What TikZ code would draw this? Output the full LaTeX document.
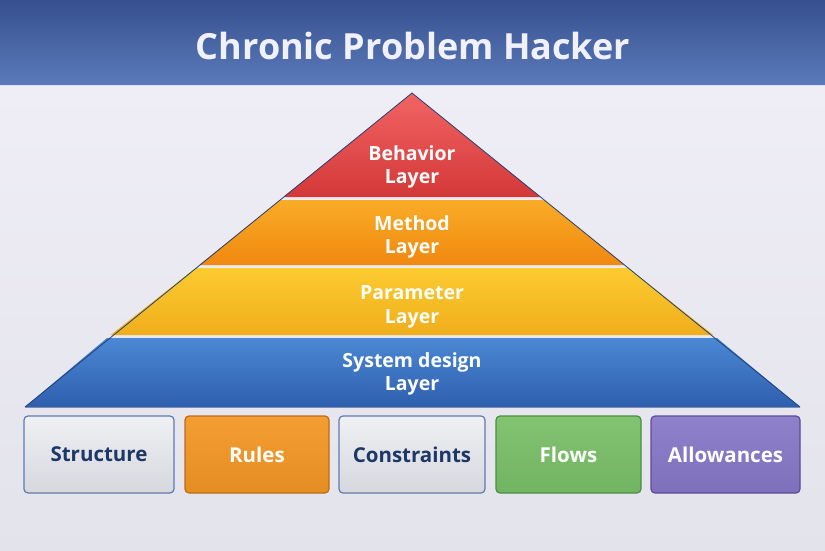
\documentclass[tikz,border=0pt]{standalone}
\usepackage{fontspec}
\setmainfont{Open Sans}
\usetikzlibrary{positioning}

\definecolor{barTop}{HTML}{37508F}
\definecolor{barBot}{HTML}{5A7AB9}
\definecolor{bgTop}{HTML}{EFEEF6}
\definecolor{bgBot}{HTML}{E3E3EC}
\definecolor{redTop}{HTML}{F16464}
\definecolor{redBot}{HTML}{D43838}
\definecolor{orTop}{HTML}{F9AC28}
\definecolor{orBot}{HTML}{F0880F}
\definecolor{yeTop}{HTML}{FCCB30}
\definecolor{yeBot}{HTML}{EFAE1C}
\definecolor{blTop}{HTML}{4B88D3}
\definecolor{blBot}{HTML}{2E5FAE}
\definecolor{edge}{HTML}{24407A}
\definecolor{navy}{HTML}{1D3866}
\definecolor{greyFill}{HTML}{E9EAF0}
\definecolor{greyLine}{HTML}{5D7BAE}
\definecolor{ruleFill}{HTML}{F29624}
\definecolor{ruleLine}{HTML}{BF6A18}
\definecolor{flowFill}{HTML}{78BF67}
\definecolor{flowLine}{HTML}{4A8F42}
\definecolor{allowFill}{HTML}{8777C8}
\definecolor{allowLine}{HTML}{5C4D96}

\tikzset{
  layertext/.style={text=white,align=center,font=\fontsize{19.5}{23.5}\selectfont\bfseries},
  basebox/.style={rounded corners=4pt,line width=1.2pt,minimum height=77pt,
    font=\fontsize{20.5}{24}\selectfont\bfseries},
  greybox/.style={basebox,draw=greyLine,top color=greyFill!70!white,bottom color=greyFill!92!black,text=navy},
  colbox/.style n args={3}{basebox,draw=#2,top color=#1!93!white,bottom color=#1!94!black,text=white}
}

\begin{document}
\begin{tikzpicture}[x=1pt,y=-1pt]
\useasboundingbox (0,0) rectangle (825,550);
% background and title bar
\shade[top color=bgTop,bottom color=bgBot] (0,85) rectangle (825,550);
\shade[top color=barTop,bottom color=barBot] (0,0) rectangle (825,85);
\draw[white!75!barBot,line width=1pt] (0,85) -- (825,85);
\path (413,46) node[text=white!94!blue,font=\fontsize{36}{40}\selectfont\bfseries] (title){Chronic Problem Hacker};

% pyramid layers
\coordinate (apex) at (412,93);
\coordinate (baseL) at (25,407);
\coordinate (baseR) at (800,407);
\shade[top color=redTop,bottom color=redBot] (apex) -- (540.5,197) -- (283.5,197) -- cycle;
\shade[top color=orTop,bottom color=orBot] (544.2,200) -- (624.8,265) -- (199.2,265) -- (279.8,200) -- cycle;
\shade[top color=yeTop,bottom color=yeBot] (628.5,268) -- (713.3,335) -- (110.7,335) -- (195.5,268) -- cycle;
\shade[top color=blTop,bottom color=blBot] (717.0,338) -- (baseR) -- (baseL) -- (107.0,338) -- cycle;
\draw[edge,line width=0.8pt] (baseL) -- (apex) -- (baseR);
\draw[edge!60,line width=0.6pt] (baseL) -- (baseR);

\path (412,167) node[layertext] (behavior){Behavior\\Layer};
\path (412,237) node[layertext] (method){Method\\Layer};
\path (412,307) node[layertext] (parameter){Parameter\\Layer};
\path (412,374) node[layertext] (system){System design\\Layer};

% bottom boxes
\path (99,454.5) node[greybox,minimum width=150pt] (structure){Structure};
\path (257,454.5) node[colbox={ruleFill}{ruleLine}{},minimum width=144pt] (rules){Rules};
\path (412,454.5) node[greybox,minimum width=146pt] (constraints){Constraints};
\path (568.5,454.5) node[colbox={flowFill}{flowLine}{},minimum width=145pt] (flows){Flows};
\path (725.5,454.5) node[colbox={allowFill}{allowLine}{},minimum width=149pt] (allowances){Allowances};
\end{tikzpicture}
\end{document}
